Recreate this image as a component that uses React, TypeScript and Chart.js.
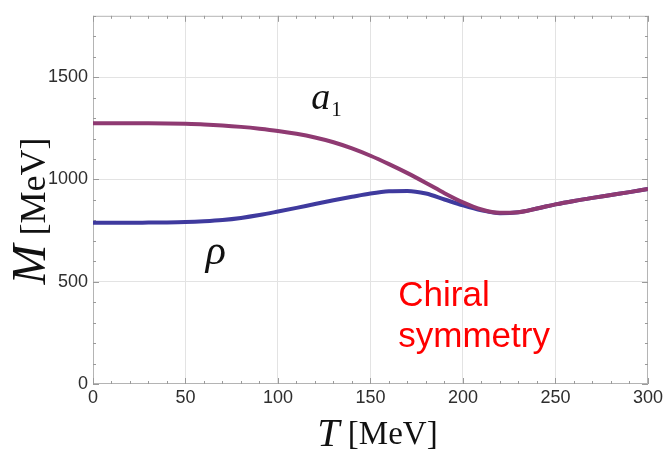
import React, { useEffect, useRef } from 'react';
import { Chart, registerables } from 'chart.js';

Chart.register(...registerables);

// ---- Data ----
const temperatures = [0, 10, 20, 30, 40, 50, 60, 70, 80, 90, 100, 110, 120, 130, 140, 150, 160, 170, 180, 190, 200, 210, 220, 230, 240, 250, 260, 270, 280, 290, 300];
const a1Mass = [1275, 1275, 1275, 1275, 1274, 1272, 1269, 1264, 1257, 1248, 1237, 1223, 1205, 1182, 1152, 1116, 1075, 1031, 983, 933, 888, 853, 837, 840, 858, 878, 895, 910, 924, 938, 953];
const rhoMass = [788, 788, 788, 789, 790, 792, 796, 802, 812, 826, 843, 861, 880, 898, 915, 931, 942, 944, 931, 902, 873, 849, 835, 840, 858, 878, 895, 910, 924, 938, 953];
const xMajorTicks = [0, 50, 100, 150, 200, 250, 300];
const yMajorTicks = [0, 500, 1000, 1500];
const seriesNames = ['a', 'ρ'];
const annotationLines = ['Chiral', 'symmetry'];

const isMajorX = (v: number) => xMajorTicks.includes(v);
const isMajorY = (v: number) => yMajorTicks.includes(v);

const framePlugin = {
  id: 'frameAndMinor',
  beforeDatasetsDraw(chart: any) {
    const { ctx, chartArea: a, scales } = chart;
    ctx.save();
    ctx.strokeStyle = '#b4b4b4';
    ctx.lineWidth = 1;
    ctx.strokeRect(a.left + 0.5, a.top + 0.5, a.right - a.left - 1, a.bottom - a.top - 1);
    ctx.strokeStyle = '#9a9a9a';
    for (const t of scales.x.ticks) {
      const px = Math.round(scales.x.getPixelForValue(t.value)) + 0.5;
      const len = isMajorX(t.value) ? 6 : 3;
      ctx.beginPath();
      ctx.moveTo(px, a.bottom);
      ctx.lineTo(px, a.bottom - len);
      ctx.moveTo(px, a.top);
      ctx.lineTo(px, a.top + len);
      ctx.stroke();
    }
    for (const t of scales.y.ticks) {
      const py = Math.round(scales.y.getPixelForValue(t.value)) + 0.5;
      const len = isMajorY(t.value) ? 6 : 3;
      ctx.beginPath();
      ctx.moveTo(a.left, py);
      ctx.lineTo(a.left + len, py);
      ctx.moveTo(a.right, py);
      ctx.lineTo(a.right - len, py);
      ctx.stroke();
    }
    ctx.restore();
  },
  afterDraw(chart: any) {
    const { ctx, chartArea: a, scales } = chart;
    const x = scales.x;
    const y = scales.y;
    ctx.save();
    ctx.textBaseline = 'alphabetic';
    ctx.textAlign = 'left';
    ctx.fillStyle = '#111';
    // a1 label
    const ax = x.getPixelForValue(118);
    const ay = y.getPixelForValue(1343);
    ctx.font = 'italic 38px "Liberation Serif", "DejaVu Serif", serif';
    ctx.fillText(seriesNames[0], ax, ay);
    const aw = ctx.measureText(seriesNames[0]).width;
    ctx.font = '21px "Liberation Serif", "DejaVu Serif", serif';
    ctx.fillText('1', ax + aw + 1, ay + 7);
    // rho label
    ctx.font = 'italic 42px "Liberation Serif", "DejaVu Serif", serif';
    ctx.fillText(seriesNames[1], x.getPixelForValue(61), y.getPixelForValue(585));
    // Chiral symmetry
    ctx.fillStyle = '#ff0000';
    ctx.font = '35px "Liberation Sans", Arial, sans-serif';
    ctx.fillText(annotationLines[0], x.getPixelForValue(165), y.getPixelForValue(380));
    ctx.fillText(annotationLines[1], x.getPixelForValue(165), y.getPixelForValue(183));
    // x axis title
    ctx.fillStyle = '#111';
    const cx = (a.left + a.right) / 2 + 7;
    ctx.font = 'italic 40px "Liberation Serif", serif';
    const tW = ctx.measureText('T').width;
    ctx.font = '33px "Liberation Serif", serif';
    const mW = ctx.measureText(' [MeV]').width;
    const startX = cx - (tW + mW) / 2;
    ctx.font = 'italic 40px "Liberation Serif", serif';
    ctx.fillText('T', startX, 446);
    ctx.font = '33px "Liberation Serif", serif';
    ctx.fillText(' [MeV]', startX + tW, 444);
    // y axis title (rotated)
    ctx.translate(45, 211);
    ctx.rotate(-Math.PI / 2);
    ctx.font = 'italic 48px "Liberation Serif", serif';
    const MW = ctx.measureText('M').width;
    ctx.font = '36px "Liberation Serif", serif';
    const uW = ctx.measureText(' [MeV]').width;
    const sx = -(MW + uW) / 2;
    ctx.font = 'italic 48px "Liberation Serif", serif';
    ctx.fillText('M', sx, 0);
    ctx.font = '36px "Liberation Serif", serif';
    ctx.fillText(' [MeV]', sx + MW, 0);
    ctx.restore();
  },
};

export default function App() {
  const canvasRef = useRef<HTMLCanvasElement | null>(null);

  useEffect(() => {
    if (!canvasRef.current) return;
    const tickFont = { family: '"Liberation Sans", Arial, sans-serif', size: 18 };
    const chart = new Chart(canvasRef.current, {
      type: 'line',
      data: {
        datasets: [
          {
            label: 'a1',
            data: temperatures.map((t, i) => ({ x: t, y: a1Mass[i] })),
            borderColor: '#8f3a72',
            borderWidth: 4,
            pointRadius: 0,
            cubicInterpolationMode: 'monotone',
            fill: false,
          },
          {
            label: 'rho',
            data: temperatures.map((t, i) => ({ x: t, y: rhoMass[i] })),
            borderColor: '#3f3a9e',
            borderWidth: 4,
            pointRadius: 0,
            cubicInterpolationMode: 'monotone',
            fill: false,
          },
        ],
      },
      options: {
        animation: false,
        responsive: false,
        maintainAspectRatio: false,
        layout: { padding: { top: 10, right: 15, left: 0, bottom: 0 } },
        plugins: { legend: { display: false }, tooltip: { enabled: false } },
        scales: {
          x: {
            type: 'linear',
            min: 0,
            max: 300,
            afterFit: (s: any) => { s.height = 68; },
            ticks: {
              stepSize: 10,
              autoSkip: false,
              maxRotation: 0,
              padding: 3,
              color: '#2e2e2e',
              font: tickFont,
              callback: (v: any) => (isMajorX(Number(v)) ? String(v) : ''),
            },
            grid: {
              drawTicks: false,
              color: (c: any) => (c.tick && isMajorX(c.tick.value) && c.tick.value > 0 && c.tick.value < 300 ? '#e3e3e3' : 'rgba(0,0,0,0)'),
            },
            border: { display: false },
          },
          y: {
            type: 'linear',
            min: 0,
            max: 1800,
            afterFit: (s: any) => { s.width = 93; },
            ticks: {
              stepSize: 100,
              autoSkip: false,
              padding: 5,
              color: '#2e2e2e',
              font: tickFont,
              callback: (v: any) => (isMajorY(Number(v)) ? String(v) : ''),
            },
            grid: {
              drawTicks: false,
              color: (c: any) => (c.tick && isMajorY(c.tick.value) && c.tick.value > 0 ? '#e3e3e3' : 'rgba(0,0,0,0)'),
            },
            border: { display: false },
          },
        },
      },
      plugins: [framePlugin],
    } as any);
    return () => chart.destroy();
  }, []);

  return (
    <div style={{ position: 'fixed', left: 0, top: 0, width: 666, height: 452, background: '#fff' }}>
      <canvas ref={canvasRef} width={666} height={452} style={{ width: 666, height: 452 }} />
    </div>
  );
}
